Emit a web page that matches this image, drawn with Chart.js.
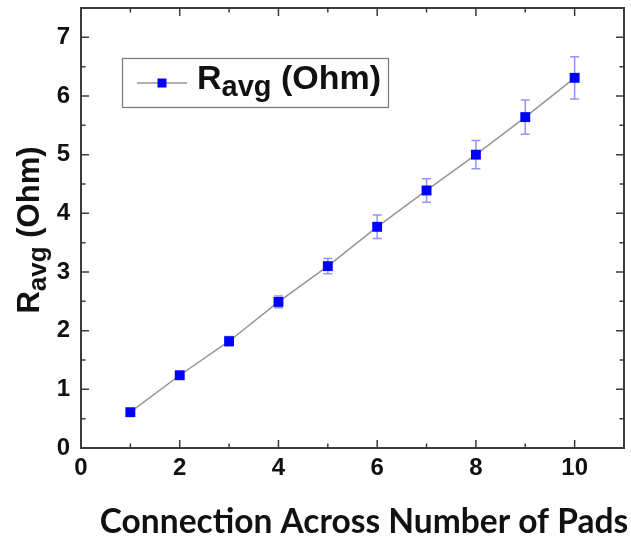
<!DOCTYPE html>
<html>
<head>
<meta charset="utf-8">
<script src="https://cdn.jsdelivr.net/npm/chart.js@4.4.1/dist/chart.umd.min.js"></script>
<style>
  html, body { margin: 0; padding: 0; background: #fff; }
  #wrap { width: 631px; height: 541px; position: relative; }
</style>
</head>
<body>
<div id="wrap"><canvas id="my-chart"></canvas></div>
<script>
// number of pads crossed by the connection
const pads = [1, 2, 3, 4, 5, 6, 7, 8, 9, 10];
// average resistance (Ohm) and its spread
const rAvg = [0.61, 1.24, 1.82, 2.49, 3.10, 3.77, 4.39, 5.00, 5.64, 6.31];
const rErr = [0.03, 0.06, 0.08, 0.10, 0.13, 0.20, 0.20, 0.24, 0.29, 0.36];

const xTicks = [0, 2, 4, 6, 8, 10];
const yTicks = [0, 1, 2, 3, 4, 5, 6, 7];

const markColor = '#0000ff';
const lineColor = '#959595';
const frameColor = '#3c3c3c';
const errColor = 'rgba(90, 90, 255, 0.65)';

// "R" + subscript "avg" + " (Ohm)", starting at (x, baseline)
function drawRavg(ctx, x, y, big, small, drop) {
    ctx.textAlign = 'left';
    ctx.textBaseline = 'alphabetic';
    ctx.font = 'bold ' + big + 'px "Liberation Sans", Arial, sans-serif';
    ctx.fillText('R', x, y);
    x += ctx.measureText('R').width;
    ctx.font = 'bold ' + small + 'px "Liberation Sans", Arial, sans-serif';
    ctx.fillText('avg', x, y + drop);
    x += ctx.measureText('avg').width;
    ctx.font = 'bold ' + big + 'px "Liberation Sans", Arial, sans-serif';
    ctx.fillText(' (Ohm)', x, y);
}
function ravgWidth(ctx, big, small) {
    ctx.font = 'bold ' + big + 'px "Liberation Sans", Arial, sans-serif';
    let w = ctx.measureText('R').width + ctx.measureText(' (Ohm)').width;
    ctx.font = 'bold ' + small + 'px "Liberation Sans", Arial, sans-serif';
    return w + ctx.measureText('avg').width;
}

const errorBars = {
    id: 'errorBars',
    beforeDatasetsDraw(chart) {
        const ctx = chart.ctx, xs = chart.scales.x, ys = chart.scales.y;
        ctx.save();
        ctx.strokeStyle = errColor;
        ctx.lineWidth = 1.5;
        pads.forEach((p, i) => {
            const px = xs.getPixelForValue(p);
            const top = ys.getPixelForValue(rAvg[i] + rErr[i]);
            const bot = ys.getPixelForValue(rAvg[i] - rErr[i]);
            ctx.beginPath();
            ctx.moveTo(px, top); ctx.lineTo(px, bot);
            ctx.moveTo(px - 4.5, top); ctx.lineTo(px + 4.5, top);
            ctx.moveTo(px - 4.5, bot); ctx.lineTo(px + 4.5, bot);
            ctx.stroke();
        });
        ctx.restore();
    }
};

const frameAndLabels = {
    id: 'frameAndLabels',
    afterDraw(chart) {
        const ctx = chart.ctx, a = chart.chartArea;
        const xs = chart.scales.x, ys = chart.scales.y;
        ctx.save();
        ctx.strokeStyle = frameColor;
        ctx.lineWidth = 2;
        ctx.strokeRect(a.left, a.top, a.right - a.left, a.bottom - a.top);

        // inward ticks on all four sides, minor ones halfway
        ctx.lineWidth = 1.5;
        ctx.beginPath();
        for (let v = 1; v <= 10; v++) {
            const px = xs.getPixelForValue(v);
            const len = v % 2 === 0 ? 8 : 4.5;
            ctx.moveTo(px, a.bottom); ctx.lineTo(px, a.bottom - len);
            ctx.moveTo(px, a.top); ctx.lineTo(px, a.top + len);
        }
        for (let v = 0.5; v <= 7.01; v += 0.5) {
            const py = ys.getPixelForValue(v);
            const len = Number.isInteger(v) ? 8 : 4.5;
            ctx.moveTo(a.left, py); ctx.lineTo(a.left + len, py);
            ctx.moveTo(a.right, py); ctx.lineTo(a.right - len, py);
        }
        ctx.stroke();

        // legend box
        ctx.fillStyle = '#fff';
        ctx.fillRect(122, 58, 266, 49);
        ctx.strokeStyle = '#777';
        ctx.lineWidth = 1.2;
        ctx.strokeRect(122.5, 58.5, 266, 49);
        ctx.strokeStyle = lineColor;
        ctx.lineWidth = 1.5;
        ctx.beginPath();
        ctx.moveTo(137, 83); ctx.lineTo(187, 83);
        ctx.stroke();
        ctx.fillStyle = markColor;
        ctx.fillRect(157.5, 78.5, 9, 9);
        ctx.fillStyle = '#111';
        drawRavg(ctx, 197, 89, 34, 29, 7);

        // y axis title, rotated
        ctx.save();
        ctx.translate(39, 230);
        ctx.rotate(-Math.PI / 2);
        const w = ravgWidth(ctx, 31, 26);
        drawRavg(ctx, -w / 2, 0, 31, 26, 7);
        ctx.restore();

        // x axis title
        ctx.font = 'bold 33.5px Lato, "Open Sans", sans-serif';
        ctx.textAlign = 'center';
        ctx.textBaseline = 'alphabetic';
        ctx.fillText('Connection Across Number of Pads', 364, 533);
        ctx.restore();
    }
};

const ctxLine = document.getElementById('my-chart').getContext('2d');
const chart = new Chart(ctxLine, {
    type: 'line',
    data: {
        datasets: [{
            label: 'Ravg (Ohm)',
            data: pads.map((p, i) => ({ x: p, y: rAvg[i] })),
            borderColor: lineColor,
            borderWidth: 1.5,
            pointStyle: 'rect',
            pointRadius: 7,
            pointBackgroundColor: markColor,
            pointBorderColor: markColor,
            pointBorderWidth: 0,
            tension: 0
        }]
    },
    options: {
        responsive: true,
        maintainAspectRatio: false,
        animation: false,
        layout: { padding: { top: 8, right: 5, left: 0, bottom: 0 } },
        plugins: {
            legend: { display: false },
            tooltip: { enabled: false }
        },
        scales: {
            x: {
                type: 'linear',
                min: 0,
                max: 11,
                grid: { display: false, drawTicks: false },
                border: { display: false },
                afterBuildTicks: s => { s.ticks = xTicks.map(v => ({ value: v })); },
                afterFit: s => { s.height = 93; s.paddingLeft = 0; s.paddingRight = 0; },
                ticks: {
                    color: '#111',
                    padding: 6,
                    maxRotation: 0,
                    font: { family: '"Liberation Sans", Arial', size: 24, weight: 'bold' }
                }
            },
            y: {
                min: 0,
                max: 7.5,
                grid: { display: false, drawTicks: false },
                border: { display: false },
                afterBuildTicks: s => { s.ticks = yTicks.map(v => ({ value: v })); },
                afterFit: s => { s.width = 81; s.paddingTop = 0; s.paddingBottom = 0; },
                ticks: {
                    color: '#111',
                    padding: 11,
                    font: { family: '"Liberation Sans", Arial', size: 24, weight: 'bold' }
                }
            }
        }
    },
    plugins: [errorBars, frameAndLabels]
});
</script>
</body>
</html>
